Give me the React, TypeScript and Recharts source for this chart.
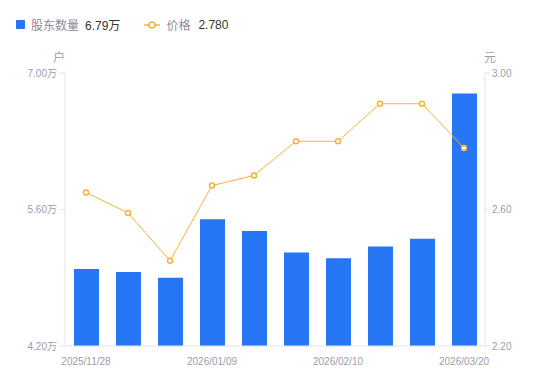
import React from "react";
import { ComposedChart, Bar, Line, XAxis, YAxis, CartesianGrid } from "recharts";

const dates = [
  "2025/11/28", "2025/12/12", "2025/12/26", "2026/01/09", "2026/01/20",
  "2026/01/31", "2026/02/10", "2026/02/27", "2026/03/10", "2026/03/20",
];
const holders = [49900, 49600, 49000, 55000, 53800, 51600, 51000, 52200, 53000, 67900];
const prices = [2.65, 2.59, 2.45, 2.67, 2.7, 2.8, 2.8, 2.91, 2.91, 2.78];
const holderTicks = [42000, 56000, 70000];
const priceTicks = [2.2, 2.6, 3.0];

const data = dates.map((d, i) => ({ date: d, holders: holders[i], price: prices[i] }));

const FONT = "'Liberation Sans', Arial, 'Noto Sans CJK SC', sans-serif";
const AXIS_TEXT = "#9c9cab";
const AXIS_LINE = "#e3e3e8";
const BLUE = "#2776f4";
const ORANGE = "#f8b237";

const App = () => {
  return (
    <div style={{ position: "absolute", left: 0, top: 0, width: 550, height: 381, fontFamily: FONT }}>
      {/* legend */}
      <div style={{ position: "absolute", left: 16, top: 16, display: "flex", alignItems: "center", fontSize: 12 }}>
        <span style={{ width: 9, height: 9, background: BLUE, borderRadius: 1, display: "inline-block" }} />
        <span style={{ color: "#8b8b9a", marginLeft: 6 }}>股东数量</span>
        <span style={{ color: "#333", marginLeft: 6 }}>6.79万</span>
        <svg width={16} height={10} style={{ marginLeft: 24 }}>
          <line x1={0} y1={5} x2={16} y2={5} stroke={ORANGE} strokeWidth={1.5} />
          <circle cx={8} cy={5} r={3} fill="#fff" stroke={ORANGE} strokeWidth={1.5} />
        </svg>
        <span style={{ color: "#8b8b9a", marginLeft: 6 }}>价格</span>
        <span style={{ color: "#333", marginLeft: 8 }}>2.780</span>
      </div>
      <div style={{ position: "absolute", left: 53, top: 48, fontSize: 12, color: AXIS_TEXT }}>户</div>
      <div style={{ position: "absolute", left: 484, top: 48, fontSize: 12, color: AXIS_TEXT }}>元</div>
      <ComposedChart
        width={550}
        height={381}
        data={data}
        margin={{ top: 73, right: 0, bottom: 15, left: 0 }}
        barCategoryGap="20%"
      >
        <CartesianGrid horizontal={false} vertical={false} />
        <XAxis
          dataKey="date"
          interval={2}
          tickLine={false}
          axisLine={{ stroke: AXIS_LINE }}
          tick={{ fill: AXIS_TEXT, fontSize: 10, fontFamily: FONT }}
          tickMargin={6}
          height={20}
        />
        <YAxis
          yAxisId="left"
          width={65}
          domain={[42000, 70000]}
          ticks={holderTicks}
          tickFormatter={(v: number) => (v / 10000).toFixed(2) + "万"}
          axisLine={{ stroke: AXIS_LINE }}
          tickLine={{ stroke: AXIS_LINE }}
          tickSize={6}
          tickMargin={2}
          tick={{ fill: AXIS_TEXT, fontSize: 10, fontFamily: FONT }}
        />
        <YAxis
          yAxisId="right"
          orientation="right"
          width={65}
          domain={[2.2, 3.0]}
          ticks={priceTicks}
          tickFormatter={(v: number) => v.toFixed(2)}
          axisLine={{ stroke: AXIS_LINE }}
          tickLine={{ stroke: AXIS_LINE }}
          tickSize={5}
          tickMargin={2}
          tick={{ fill: AXIS_TEXT, fontSize: 10, fontFamily: FONT }}
        />
        <Bar yAxisId="left" dataKey="holders" fill={BLUE} barSize={25} isAnimationActive={false} />
        <Line
          yAxisId="right"
          dataKey="price"
          type="linear"
          stroke={ORANGE}
          strokeWidth={1}
          dot={{ r: 2.5, fill: "#fff", stroke: ORANGE, strokeWidth: 1.5 }}
          isAnimationActive={false}
        />
      </ComposedChart>
    </div>
  );
};

export default App;
